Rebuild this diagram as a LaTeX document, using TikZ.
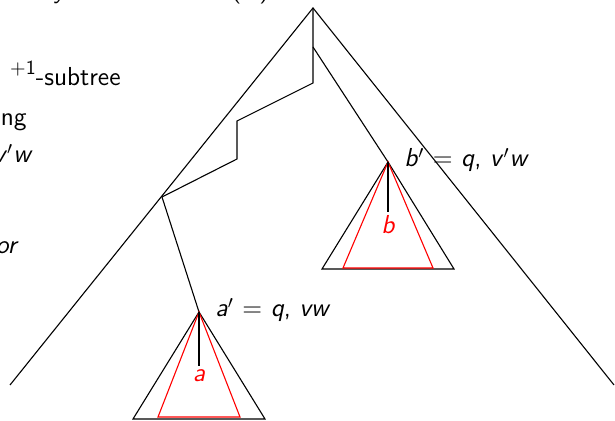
\documentclass[tikz,border=0pt]{standalone}
\begin{document}
\begin{tikzpicture}[x=0.5pt,y=-0.5pt,
  edge/.style={line width=0.55pt,black},
  redtri/.style={line width=0.55pt,red},
  lbl/.style={font=\sffamily\fontsize{13}{15.6}\selectfont,inner sep=0pt},
  redlbl/.style={font=\sffamily\itshape\fontsize{13}{15.6}\selectfont,text=red,inner sep=1.5pt,anchor=north}]
\useasboundingbox (0,0) rectangle (615,421);
\clip (0,0) rectangle (615,421);
% tree junctions
\coordinate (root) at (313,8);
\coordinate (j1) at (313,47);
\coordinate (j2) at (313,83);
\coordinate (k1) at (237,121);
\coordinate (k2) at (237,159);
\coordinate (L) at (162,197);
\coordinate (A) at (199,312);
\coordinate (B) at (388,162);
\coordinate (lend) at (10,385);
\coordinate (rend) at (614,385);
% big tree
\draw[edge] (lend) -- (root) -- (rend);
\draw[edge] (root) -- (j2) -- (k1) -- (k2) -- (L) -- (A);
\draw[edge] (j1) -- (B);
% subtree a
\coordinate (a1) at (133,419); \coordinate (a2) at (265,419);
\coordinate (ar1) at (158,417); \coordinate (ar2) at (240,417);
\coordinate (aend) at (199,366);
\draw[edge] (A) -- (a1) -- (a2) -- cycle;
\draw[redtri] (A) -- (ar1) -- (ar2) -- cycle;
\draw[edge] (A) -- (aend);
\node[redlbl] (alab) at (aend) {a};
% subtree b
\coordinate (b1) at (322,269); \coordinate (b2) at (454,269);
\coordinate (br1) at (343,268); \coordinate (br2) at (433,268);
\coordinate (bend) at (388,212);
\draw[edge] (B) -- (b1) -- (b2) -- cycle;
\draw[redtri] (B) -- (br1) -- (br2) -- cycle;
\draw[edge] (B) -- (bend);
\node[redlbl] (blab) at (bend) {b};
% labels
\node[lbl,anchor=base west] (aprime) at (215,317) {\textit{a}$'$ = \textit{q}, \textit{vw}};
\node[lbl,anchor=base west] (bprime) at (404,167) {\textit{b}$'$ = \textit{q}, \textit{v}$'$\textit{w}};
% partially visible text at the left and top edges
\node[lbl,anchor=base east] (t1) at (121,86) {\raisebox{5.5pt}{\fontsize{10}{12}\selectfont +1}-subtree};
\node[lbl,anchor=base east] (t2) at (27,126) {ng};
\node[lbl,anchor=base east] (t3) at (33,163) {\textit{v}$'$\textit{w}};
\node[lbl,anchor=base east] (t4) at (19,254) {\textit{or}};
\node[lbl,anchor=base west] (t5) at (54,-1) {\textit{y}};
\node[lbl,anchor=base west] (t6) at (231,-2) {(\hspace{9pt})};
\end{tikzpicture}
\end{document}
